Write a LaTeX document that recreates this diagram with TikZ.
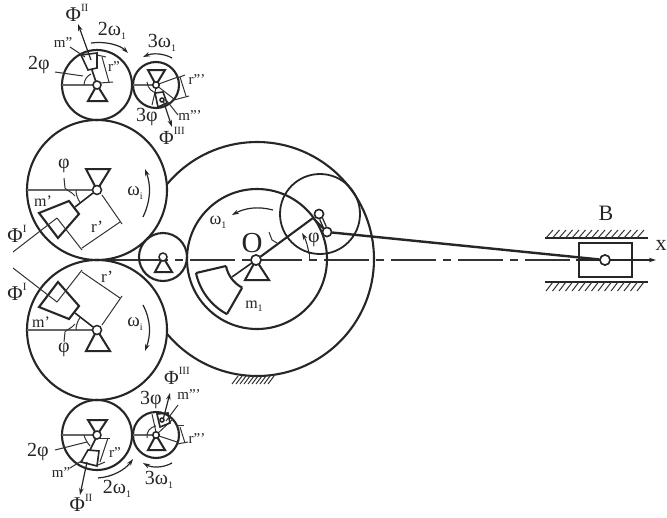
\documentclass[tikz,border=0pt]{standalone}
\usepackage{fontspec}
\setmainfont{Liberation Serif}
\usetikzlibrary{arrows.meta,calc}
\tikzset{
  thk/.style={line width=2.1pt,draw=black!85},
  med/.style={line width=1.6pt,draw=black!85},
  thn/.style={line width=1pt,draw=black!80},
  gry/.style={line width=1.2pt,draw=black!60},
  pin/.style={circle,draw=black!85,line width=1.5pt,fill=white,inner sep=0pt,minimum size=#1},
  pin/.default=8pt,
  tri/.style={line width=2pt,draw=black!85,line join=miter},
  arr/.style={line width=1.2pt,draw=black!85,-{Stealth[length=7pt,width=4.5pt]}},
  lab/.style={inner sep=0pt,text=black!85,font=\fontsize{#1}{#1}\selectfont},
  lab/.default=16pt,
  hatchline/.style={line width=1pt,draw=black!80}
}
\newcommand{\supr}[1]{\raisebox{0.5em}{\fontsize{11pt}{11pt}\selectfont #1}}
\newcommand{\subr}[1]{\raisebox{-0.2em}{\fontsize{10pt}{10pt}\selectfont #1}}
\begin{document}
\begin{tikzpicture}[x=1pt,y=-1pt]
\useasboundingbox (0,0) rectangle (667,517);
\fill[white] (0,0) rectangle (667,517);

% centre line
\draw[thn,line width=1.2pt] (90,260) -- (123,260);
\draw[thn,line width=1.2pt,dash pattern=on 45pt off 7pt on 8pt off 7pt] (123,260) -- (579,260);
\coordinate (arrowend) at (656,260);
\draw[arr] (576,260) -- (arrowend);

% main circles
\draw[thk] (97,190) circle[radius=70];
\draw[thk] (97,330) circle[radius=70];
\draw[thk] (97,85) circle[radius=35];
\draw[thk] (97,435) circle[radius=35];
\draw[thk] (156,85) circle[radius=23];
\draw[thk] (156,435) circle[radius=23];
\draw[thk] (163,257) circle[radius=24];
\draw[thk] (257,259) circle[radius=70];
\draw[thk,line width=1.8pt] (320,214) circle[radius=40];
\draw[thk] ($(257,259)+(220:117 and 117)$) arc[start angle=220,end angle=500,radius=117];

% ground hatching under big wheel
\foreach \x in {232,236,...,268} \draw[hatchline] (\x,384) -- (\x+6,376);

% ---- upper gear I
\draw[gry] (27,190) -- (97,190);
\draw[tri] (86,169) -- (110,169) -- (97,190) -- cycle;
\draw[thk] (39,213) -- (69,201) -- (79,214) -- (58,238) -- cycle;
\draw[med] (75,207) -- (93,193);
\draw[thn] (57,218) -- (82,250);
\draw[thn] (57,218) -- (13,252);
\draw[thn] (102,195) -- (122,224);
\draw[thn] (82,248) -- (120,222);
\draw[thn] (76,190) arc[start angle=180,end angle=143,radius=21];
\draw[thn] (64,178) -- (65,188) .. controls (66,190) and (72,192) .. (75,196);
\draw[arr] (143,217) .. controls (151,200) and (151,185) .. (145,169);

% ---- lower gear I
\draw[gry] (27,330) -- (97,330);
\draw[tri] (86,351) -- (110,351) -- (97,330) -- cycle;
\draw[thk] (39,307) -- (69,319) -- (79,306) -- (58,282) -- cycle;
\draw[med] (75,313) -- (93,327);
\draw[thn] (57,302) -- (82,270);
\draw[thn] (57,302) -- (13,268);
\draw[thn] (102,325) -- (122,296);
\draw[thn] (82,272) -- (120,298);
\draw[thn] (76,330) arc[start angle=180,end angle=217,radius=21];
\draw[thn] (64,342) -- (65,332) .. controls (66,330) and (72,328) .. (75,324);
\draw[arr] (143,305) .. controls (151,320) and (151,335) .. (145,351);

% ---- upper gear II
\draw[gry] (62,85) -- (97,85);
\draw[tri] (88,101) -- (107,101) -- (97,85) -- cycle;
\draw[med] (81,55) -- (97,53) -- (97,68) -- (88,70) -- cycle;
\draw[med] (92,70) -- (96,82);
\draw[arr] (91,60) -- (78,24);
\draw[thn] (70,47) -- (85,57);
\draw[thn] (55,72) -- (83,76);
\draw[thn] (84,85) .. controls (84,80) and (87,76) .. (91,74);
\draw[thn] (97,55) -- (106,57);
\draw[thn] (102,57) -- (109,82);
\draw[thn] (100,83) -- (113,82);
\draw[arr] (91,43) .. controls (105,41) and (120,45) .. (128,53);

% ---- upper gear III
\draw[gry] (133,85) -- (156,85);
\draw[tri] (148,70) -- (165,70) -- (156,85) -- cycle;
\draw[thn] (156,85) -- (178,77);
\draw[thn] (156,85) -- (174,99);
\draw[thn] (156,88) -- (152,105);
\draw[thn] (147,82) .. controls (148,89) and (152,92) .. (157,93);
\draw[med] (155,93) -- (163,92) -- (167,103) -- (158,107) -- cycle;
\draw[thn] (180,77) -- (186,96);
\draw[thn] (177,78) -- (185,75);
\draw[thn] (174,100) -- (189,96);
\draw[arr] (163,100) -- (172,127);
\draw[thn] (167,101) -- (178,115);
\draw[arr] (172,58) .. controls (163,53) and (152,53) .. (143,57);

% ---- lower gear II
\draw[gry] (62,435) -- (97,435);
\draw[tri] (88,420) -- (107,420) -- (97,435) -- cycle;
\draw[med] (81,462) -- (88,450) -- (99,451) -- (97,466) -- cycle;
\draw[med] (90,450) -- (96,438);
\draw[arr] (87,462) -- (80,495);
\draw[thn] (70,468) -- (83,460);
\draw[thn] (55,450) -- (87,442);
\draw[thn] (84,435) .. controls (85,439) and (87,442) .. (90,446);
\draw[thn] (100,462) -- (108,438);
\draw[thn] (99,438) -- (110,438);
\draw[thn] (98,465) -- (105,462);
\draw[arr] (98,478) .. controls (112,477) and (125,470) .. (133,459);

% ---- lower gear III
\draw[gry] (133,435) -- (156,435);
\draw[tri] (148,450) -- (165,450) -- (156,435) -- cycle;
\draw[thn] (156,435) -- (177,442);
\draw[thn] (156,435) -- (172,420);
\draw[thn] (156,432) -- (152,414);
\draw[thn] (147,438) .. controls (146,432) and (150,427) .. (156,426);
\draw[med] (157,414) -- (168,413) -- (170,423) -- (160,427) -- cycle;
\draw[thn] (180,427) -- (185,443);
\draw[thn] (176,425) -- (184,425);
\draw[thn] (177,444) -- (188,442);
\draw[arr] (163,420) -- (170,393);
\draw[thn] (166,421) -- (178,405);
\draw[arr] (172,463) .. controls (163,468) and (152,468) .. (143,463);

% ---- idler and O
\draw[tri] (155,272) -- (172,272) -- (163,257) -- cycle;
\draw[tri] (245,280) -- (269,280) -- (256,260) -- cycle;
\draw[thk] (196,273) -- (226,266);
\draw[thk] (242,288) -- (227,314);
\draw[thk] (196,273) arc[start angle=168,end angle=118,radius=61];
\draw[thk] (226,266) arc[start angle=169,end angle=117,radius=31];
\draw[med] (232,277) -- (256,260);
\draw[arr] (273,210) .. controls (258,206) and (245,208) .. (232,215);

% crank
\node[pin=9pt] (pinA) at (319,214) {};
\node[pin=9pt] (pinB) at (327,232) {};
\node[pin=10pt] (pinO) at (256,260) {};
\coordinate (crankEnd) at (313,218);
\draw[thk] (pinO) -- (crankEnd);
\draw[line width=1.4pt,draw=black!85,double=white,double distance=1.6pt] (pinA) -- (pinB);
\draw[thk] (crankEnd) -- (pinB);
\draw[thn] (309,260) -- (309,253);
\draw[arr,line width=1pt] (309,254) .. controls (308,247) and (306,240) .. (302,233);
\draw[thn] (269,232) -- (272,240) -- (277,243);

% slider
\draw[thk] (579,243) rectangle (632,277);
\node[pin=10pt] (pinC) at (605,260) {};
\draw[thk,line width=2.4pt] (pinB) -- (pinC);
\node[pin=9pt] at (pinA) {};
\node[pin=9pt] at (pinB) {};
\node[pin=10pt] at (pinC) {};
\node[pin=10pt] at (pinO) {};
\node[pin=9pt] (pinI1) at (97,190) {};
\node[pin=9pt] (pinI2) at (97,330) {};
\node[pin=8pt] (pinII1) at (97,85) {};
\node[pin=8pt] (pinII2) at (97,435) {};
\node[pin=6.5pt] (pinIII1) at (156,85) {};
\node[pin=6.5pt] (pinIII2) at (156,435) {};
\node[pin=4pt] (pinM3a) at (162,100) {};
\node[pin=4pt] (pinM3b) at (162,420) {};
\node[pin=8pt] (pinIdl) at (163,257) {};

% guides
\draw[thk] (545,238) -- (648,238);
\draw[thk] (545,282) -- (648,282);
\foreach \x in {546,552.5,...,642} {
  \draw[hatchline] (\x,238) -- (\x+7,230);
  \draw[hatchline] (\x,291) -- (\x+7,282);
}

% labels
\node[lab=22pt] (tB) at (606,213) {B};
\node[lab=22pt] (tx) at (661,245) {x};
\node[lab=29pt] (tO) at (252,243) {O};
\node[lab=16pt] (tm1) at (254,306) {m\subr{1}};
\node[lab=18pt] (tw1) at (218,222) {ω\subr{1}};
\node[lab=20pt] (tphi) at (314,240) {φ};
\node[lab=20pt] (tphiU) at (64,166) {φ};
\node[lab=20pt] (tphiL) at (64,350) {φ};
\node[lab=16pt] (tmU) at (43,201) {m'};
\node[lab=16pt] (tmL) at (41,322) {m'};
\node[lab=17pt] (trU) at (97,227) {r'};
\node[lab=17pt] (trL) at (107,277) {r'};
\node[lab=21pt] (tFU) at (17,234) {Φ\supr{I}};
\node[lab=21pt] (tFL) at (17,292) {Φ\supr{I}};
\node[lab=19pt] (tWU) at (135,193) {ω\subr{i}};
\node[lab=19pt] (tWL) at (135,324) {ω\subr{i}};
\node[lab=21pt] (tF2U) at (77,13) {Φ\supr{II}};
\node[lab=21pt] (tF2L) at (81,503) {Φ\supr{II}};
\node[lab=20pt] (t2wU) at (112,31) {2ω\subr{1}};
\node[lab=20pt] (t2wL) at (117,489) {2ω\subr{1}};
\node[lab=20pt] (t3wU) at (162,43) {3ω\subr{1}};
\node[lab=20pt] (t3wL) at (159,480) {3ω\subr{1}};
\node[lab=15pt] (tm2U) at (63,43) {m''};
\node[lab=15pt] (tm2L) at (61,473) {m''};
\node[lab=20pt] (t2pU) at (39,65) {2φ};
\node[lab=20pt] (t2pL) at (38,452) {2φ};
\node[lab=15pt] (tr2U) at (114,67) {r''};
\node[lab=15pt] (tr2L) at (115,453) {r''};
\node[lab=15pt] (tr3U) at (197,80) {r'''};
\node[lab=15pt] (tr3L) at (197,439) {r'''};
\node[lab=15pt] (tm3U) at (190,116) {m'''};
\node[lab=15pt] (tm3L) at (189,395) {m'''};
\node[lab=20pt] (t3pU) at (147,117) {3φ};
\node[lab=20pt] (t3pL) at (151,400) {3φ};
\node[lab=20pt] (tF3U) at (172,136) {Φ\supr{III}};
\node[lab=20pt] (tF3L) at (177,376) {Φ\supr{III}};
\end{tikzpicture}
\end{document}
